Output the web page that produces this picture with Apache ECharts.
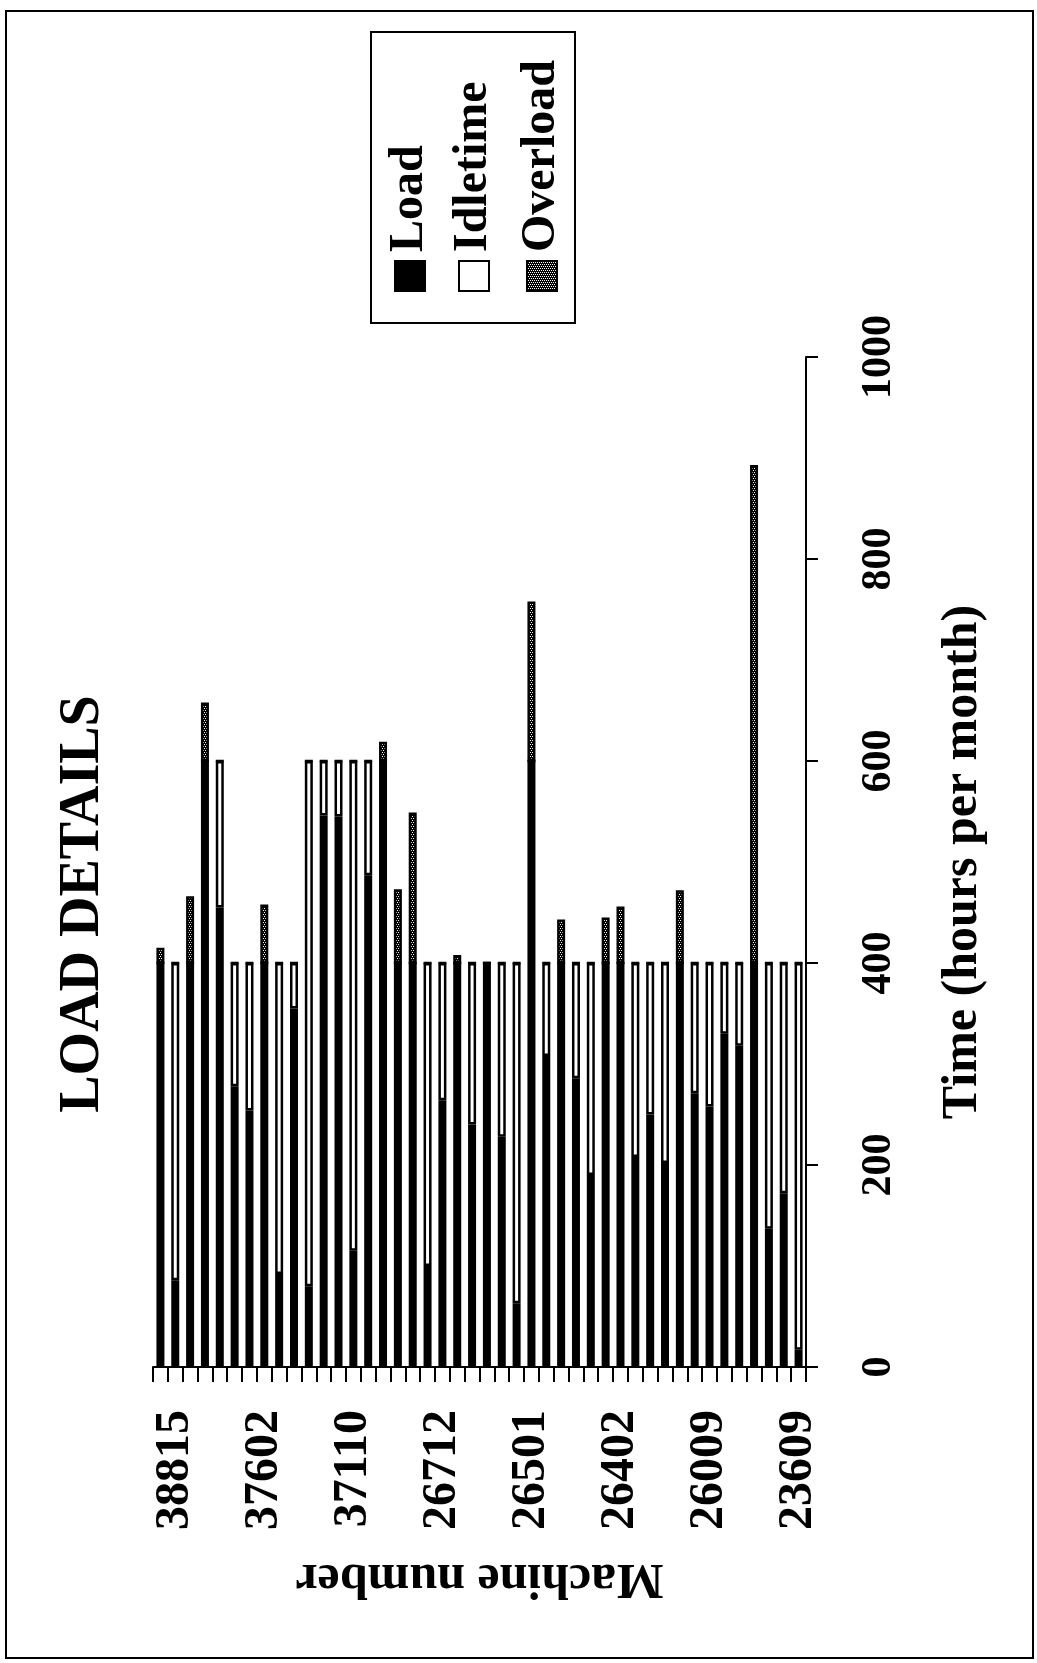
<!DOCTYPE html>
<html>
<head>
<meta charset="utf-8">
<title>Load details</title>
<script src="https://cdn.jsdelivr.net/npm/echarts@6/dist/echarts.min.js"></script>
<style>
  html, body { margin: 0; padding: 0; background: #fff; }
  #chart { width: 1037px; height: 1663px; }
</style>
</head>
<body>
<div id="chart"></div>
<script>
// Machine numbers along the category axis (only every sixth machine is labelled)
const machines = [
  '', '38815', '', '', '', '', '',
  '37602', '', '', '', '', '',
  '37110', '', '', '', '', '',
  '26712', '', '', '', '', '',
  '26501', '', '', '', '', '',
  '26402', '', '', '', '', '',
  '26009', '', '', '', '', '',
  '23609'
];

// Hours per month for each machine
const loadHours = [
  400, 86, 400, 600, 455, 278, 254, 400, 92, 355, 80,
  546, 545, 115, 487, 600, 400, 400, 100, 264, 400, 240,
  400, 228, 63, 600, 308, 400, 286, 190, 400, 400, 208,
  250, 202, 400, 271, 258, 330, 318, 400, 137, 172, 17
];
const idleHours = [
  0, 314, 0, 0, 145, 122, 146, 0, 308, 45, 520,
  54, 55, 485, 113, 0, 0, 0, 300, 136, 0, 160,
  0, 172, 337, 0, 92, 0, 114, 210, 0, 0, 192,
  150, 198, 0, 129, 142, 70, 82, 0, 263, 228, 383
];
const overloadHours = [
  15, 0, 66, 58, 0, 0, 0, 58, 0, 0, 0,
  0, 0, 0, 0, 19, 73, 149, 0, 0, 8, 0,
  0, 0, 0, 158, 0, 43, 0, 0, 45, 56, 0,
  0, 0, 72, 0, 0, 0, 0, 493, 0, 0, 0
];

const seriesNames = ['Load', 'Idletime', 'Overload'];
const timeTicks = { min: 0, max: 1000, step: 200 };

const FONT = '"Liberation Serif", "Times New Roman", serif';

// Stippled fill used for overload segments
function stipple() {
  const c = document.createElement('canvas');
  c.width = 4; c.height = 4;
  const g = c.getContext('2d');
  g.fillStyle = '#000';
  g.fillRect(0, 0, 4, 4);
  g.fillStyle = '#fff';
  g.fillRect(0, 0, 1, 1);
  g.fillRect(2, 0, 1, 1);
  g.fillRect(1, 2, 1, 1);
  g.fillRect(3, 2, 1, 1);
  return c;
}
const overloadFill = { image: stipple(), repeat: 'repeat' };
const fills = ['#000', '#fff', overloadFill];

const chart = echarts.init(document.getElementById('chart'), null, { renderer: 'canvas' });

function barSeries(name, values, fill) {
  return {
    name: name,
    type: 'bar',
    stack: 'hours',
    barWidth: 8,
    data: values,
    itemStyle: { color: fill, borderColor: '#000', borderWidth: 2.5 },
    emphasis: { disabled: true }
  };
}

// Rotated legend, reading bottom-to-top like the rest of the page
const legendX = [410, 474, 542];
const legendItems = [];
seriesNames.forEach(function (n, i) {
  legendItems.push({
    type: 'rect',
    shape: { x: legendX[i] - 15, y: 261, width: 30, height: 30 },
    style: { fill: fills[i], stroke: '#000', lineWidth: 2 }
  });
  legendItems.push({
    type: 'text',
    x: legendX[i], y: 252,
    rotation: Math.PI / 2,
    style: {
      text: n, fill: '#000',
      font: 'bold 48px ' + FONT,
      textAlign: 'left', textVerticalAlign: 'middle'
    }
  });
});

const option = {
  animation: false,
  backgroundColor: '#fff',
  grid: { left: 153, right: 231, top: 357, bottom: 296, containLabel: false, outerBoundsMode: 'none' },
  xAxis: {
    type: 'category',
    data: machines,
    boundaryGap: true,
    axisLine: { show: true, lineStyle: { color: '#000', width: 2 } },
    axisTick: { show: true, interval: 0, length: 15, lineStyle: { color: '#000', width: 2 } },
    axisLabel: {
      interval: function (i) { return i % 6 === 1; },
      rotate: 90,
      margin: 43,
      color: '#000',
      fontFamily: FONT,
      fontWeight: 'bold',
      fontSize: 48
    },
    splitLine: { show: false },
    name: 'Machine number',
    nameLocation: 'middle',
    nameRotate: 180,
    nameGap: 186,
    nameTextStyle: { color: '#000', fontFamily: FONT, fontWeight: 'bold', fontSize: 50 }
  },
  yAxis: {
    type: 'value',
    position: 'right',
    min: timeTicks.min,
    max: timeTicks.max,
    interval: timeTicks.step,
    axisLine: { show: true, lineStyle: { color: '#000', width: 2 } },
    axisTick: { show: true, length: 12, lineStyle: { color: '#000', width: 2 } },
    axisLabel: {
      rotate: 90,
      margin: 52,
      color: '#000',
      fontFamily: FONT,
      fontWeight: 'bold',
      fontSize: 42,
      formatter: function (v) { return String(v); }
    },
    splitLine: { show: false },
    name: 'Time (hours per month)',
    nameLocation: 'middle',
    nameRotate: 90,
    nameGap: 132,
    nameTextStyle: { color: '#000', fontFamily: FONT, fontWeight: 'bold', fontSize: 50 }
  },
  series: [
    barSeries(seriesNames[0], loadHours, fills[0]),
    barSeries(seriesNames[1], idleHours, fills[1]),
    barSeries(seriesNames[2], overloadHours, fills[2])
  ],
  graphic: [
    // page frame
    {
      type: 'rect',
      shape: { x: 6, y: 11, width: 1027, height: 1647 },
      style: { fill: 'none', stroke: '#000', lineWidth: 2 },
      silent: true
    },
    // title
    {
      type: 'text',
      x: 84, y: 904,
      rotation: Math.PI / 2,
      style: {
        text: 'LOAD DETAILS', fill: '#000',
        font: 'bold 56px ' + FONT,
        textAlign: 'center', textVerticalAlign: 'middle'
      }
    },
    // legend box and entries
    {
      type: 'rect',
      shape: { x: 371, y: 32, width: 204, height: 291 },
      style: { fill: '#fff', stroke: '#000', lineWidth: 2 }
    }
  ].concat(legendItems)
};

chart.setOption(option);
</script>
</body>
</html>
